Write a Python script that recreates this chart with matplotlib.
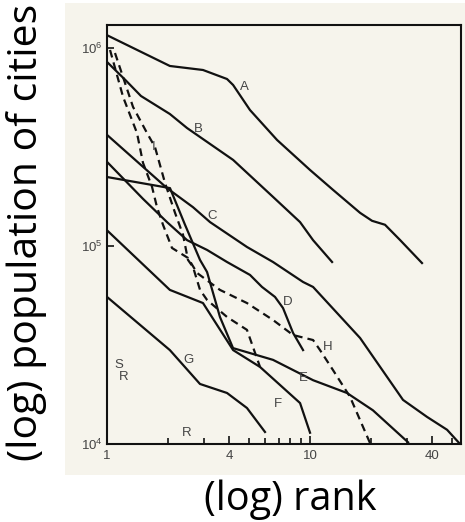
import matplotlib
matplotlib.use("Agg")
import matplotlib.pyplot as plt
from matplotlib.patches import Rectangle

plt.rcParams["mathtext.default"] = "regular"

# rank-size curves (rank, population)
a_rank = [1.0, 2.04, 2.97, 3.9, 4.18, 5.06, 6.88, 10.0, 12.98, 17.64, 20.2, 23.4, 27.8, 35.6]
a_pop = [1.16e6, 8.11e5, 7.74e5, 6.97e5, 6.5e5, 4.86e5, 3.43e5, 2.42e5, 1.92e5, 1.47e5, 1.34e5, 1.28e5, 1.07e5, 8.2e4]

b_rank = [1.0, 1.23, 1.47, 2.04, 2.48, 4.18, 6.57, 8.93, 10.35, 12.84]
b_pop = [8.5e5, 6.9e5, 5.72e5, 4.64e5, 3.94e5, 2.72e5, 1.77e5, 1.32e5, 1.07e5, 8.3e4]

c_rank = [1.0, 1.975, 2.652, 3.217, 4.894, 6.572, 9.238, 10.35, 17.64, 28.7, 37.7, 47.3, 54.8]
c_pop = [3.64e5, 1.96e5, 1.57e5, 1.32e5, 9.88e4, 8.3e4, 6.58e4, 6.21e4, 3.43e4, 1.67e4, 1.37e4, 1.18e4, 1.0e4]

d_rank = [1.0, 1.504, 1.975, 2.48, 3.11, 3.901, 5.063, 5.8, 6.72, 7.36, 8.247, 9.238]
d_pop = [2.66e5, 1.73e5, 1.32e5, 1.07e5, 9.55e4, 8.3e4, 7.14e4, 6.21e4, 5.53e4, 4.86e4, 3.64e4, 2.98e4]

e_rank = [1.0, 2.043, 2.422, 2.872, 3.11, 3.6, 4.176, 6.572, 10.35, 15.2, 20.4, 30.4]
e_pop = [2.23e5, 1.96e5, 1.28e5, 8.5e4, 7.39e4, 4.38e4, 3.05e4, 2.66e4, 2.1e4, 1.81e4, 1.48e4, 1.02e4]

f_rank = [1.0, 2.04, 2.97, 4.18, 5.67, 8.93, 10.0]
f_pop = [1.2e5, 6.0e4, 5.15e4, 2.98e4, 2.45e4, 1.61e4, 1.14e4]

g_rank = [1.0, 2.04, 2.87, 3.9, 4.89, 6.0]
g_pop = [5.53e4, 2.98e4, 2.01e4, 1.81e4, 1.52e4, 1.15e4]

h_rank = [1.035, 1.2, 1.405, 1.504, 1.666, 1.763, 1.887, 2.09, 2.506, 2.776, 3.6,
          4.89, 6.57, 8.25, 10.35, 11.2, 12.98, 15.74, 17.64, 19.75]
h_pop = [9.77e5, 5.66e5, 3.72e5, 2.63e5, 1.99e5, 1.57e5, 1.28e5, 9.77e4, 8.7e4, 7.31e4, 6.0e4,
         5.15e4, 4.23e4, 3.55e4, 3.35e4, 2.98e4, 2.36e4, 1.73e4, 1.32e4, 1.01e4]

i_rank = [1.095, 1.343, 1.574, 1.723, 1.931, 2.163, 2.368, 2.506, 2.652, 2.872, 3.11, 3.9, 4.89, 5.67]
i_pop = [9.43e5, 5.04e5, 3.72e5, 3.16e5, 2.08e5, 1.47e5, 1.14e5, 8.5e4, 7.83e4, 6.0e4, 5.34e4,
         4.38e4, 3.77e4, 2.45e4]

# curve letters and where they sit
letters = ["A", "B", "C", "I", "D", "H", "E", "F", "G", "R"]
letter_rank = [4.73, 2.81, 3.29, 1.70, 7.79, 12.27, 9.24, 6.96, 2.51, 2.48]
letter_pop = [6.35e5, 3.9e5, 1.42e5, 3.16e5, 5.21e4, 3.09e4, 2.15e4, 1.59e4, 2.66e4, 1.14e4]

x_ticks = [1, 4, 10, 40]
x_minor = [2, 3, 5, 6, 7, 8, 9, 20, 30, 50]
y_ticks = [1e4, 1e5, 1e6]
y_labels = ["$10^4$", "$10^5$", "$10^6$"]

paper = "#f6f4ec"
ink = "#111111"
grey = "#444444"

fig = plt.figure(figsize=(4.65, 5.22), dpi=100)
fig.patch.set_facecolor("white")
# the scanned page area
fig.patches.append(Rectangle((65 / 465, 1 - 475 / 522), 400 / 465, 472 / 522,
                             transform=fig.transFigure, facecolor=paper,
                             edgecolor="none", zorder=-5))

ax = fig.add_axes([107 / 465, 1 - 444 / 522, 354 / 465, 419 / 522])
ax.set_facecolor(paper)
ax.set_xscale("log")
ax.set_yscale("log")
ax.set_xlim(1, 55.4)
ax.set_ylim(1e4, 1.306e6)

solid = [(a_rank, a_pop), (b_rank, b_pop), (c_rank, c_pop), (d_rank, d_pop),
         (e_rank, e_pop), (f_rank, f_pop), (g_rank, g_pop)]
for r, p in solid:
    ax.plot(r, p, color=ink, lw=1.6, solid_joinstyle="round")
for r, p in [(h_rank, h_pop), (i_rank, i_pop)]:
    ax.plot(r, p, color=ink, lw=1.6, dashes=(3.5, 2.3))

for t, r, p in zip(letters, letter_rank, letter_pop):
    ax.text(r, p, t, color=grey, fontsize=9.5, family="Liberation Sans",
            ha="center", va="center")
ax.text(1.146, 2.5e4, "S", color=grey, fontsize=9.5, family="Liberation Sans",
        ha="center", va="center")
ax.text(1.21, 2.18e4, "R", color=grey, fontsize=9.5, family="Liberation Sans",
        ha="center", va="center")

ax.set_xticks(x_ticks)
ax.set_xticklabels([str(v) for v in x_ticks])
ax.set_xticks(x_minor, minor=True)
ax.set_xticklabels([], minor=True)
ax.set_yticks(y_ticks)
ax.set_yticklabels(y_labels)
ax.yaxis.set_minor_locator(matplotlib.ticker.NullLocator())
ax.tick_params(axis="both", which="both", direction="in", color=ink, width=1.2,
               labelcolor=grey, labelsize=9.5)
ax.tick_params(axis="x", which="major", length=6, pad=4)
ax.tick_params(axis="x", which="minor", length=4)
ax.tick_params(axis="y", which="major", length=5, pad=3)
for lab in ax.get_xticklabels() + ax.get_yticklabels():
    lab.set_family("Liberation Sans")
for s in ax.spines.values():
    s.set_linewidth(1.5)
    s.set_color(ink)

fig.text(27 / 465, 1 - 232 / 522, "(log) population of cities", rotation=90,
         ha="center", va="center", fontsize=29.5, family="Open Sans", color="black")
fig.text(290 / 465, 1 - 500 / 522, "(log) rank", ha="center", va="center",
         fontsize=28.5, family="Open Sans", color="black")

fig.savefig("out.png", dpi=100)
